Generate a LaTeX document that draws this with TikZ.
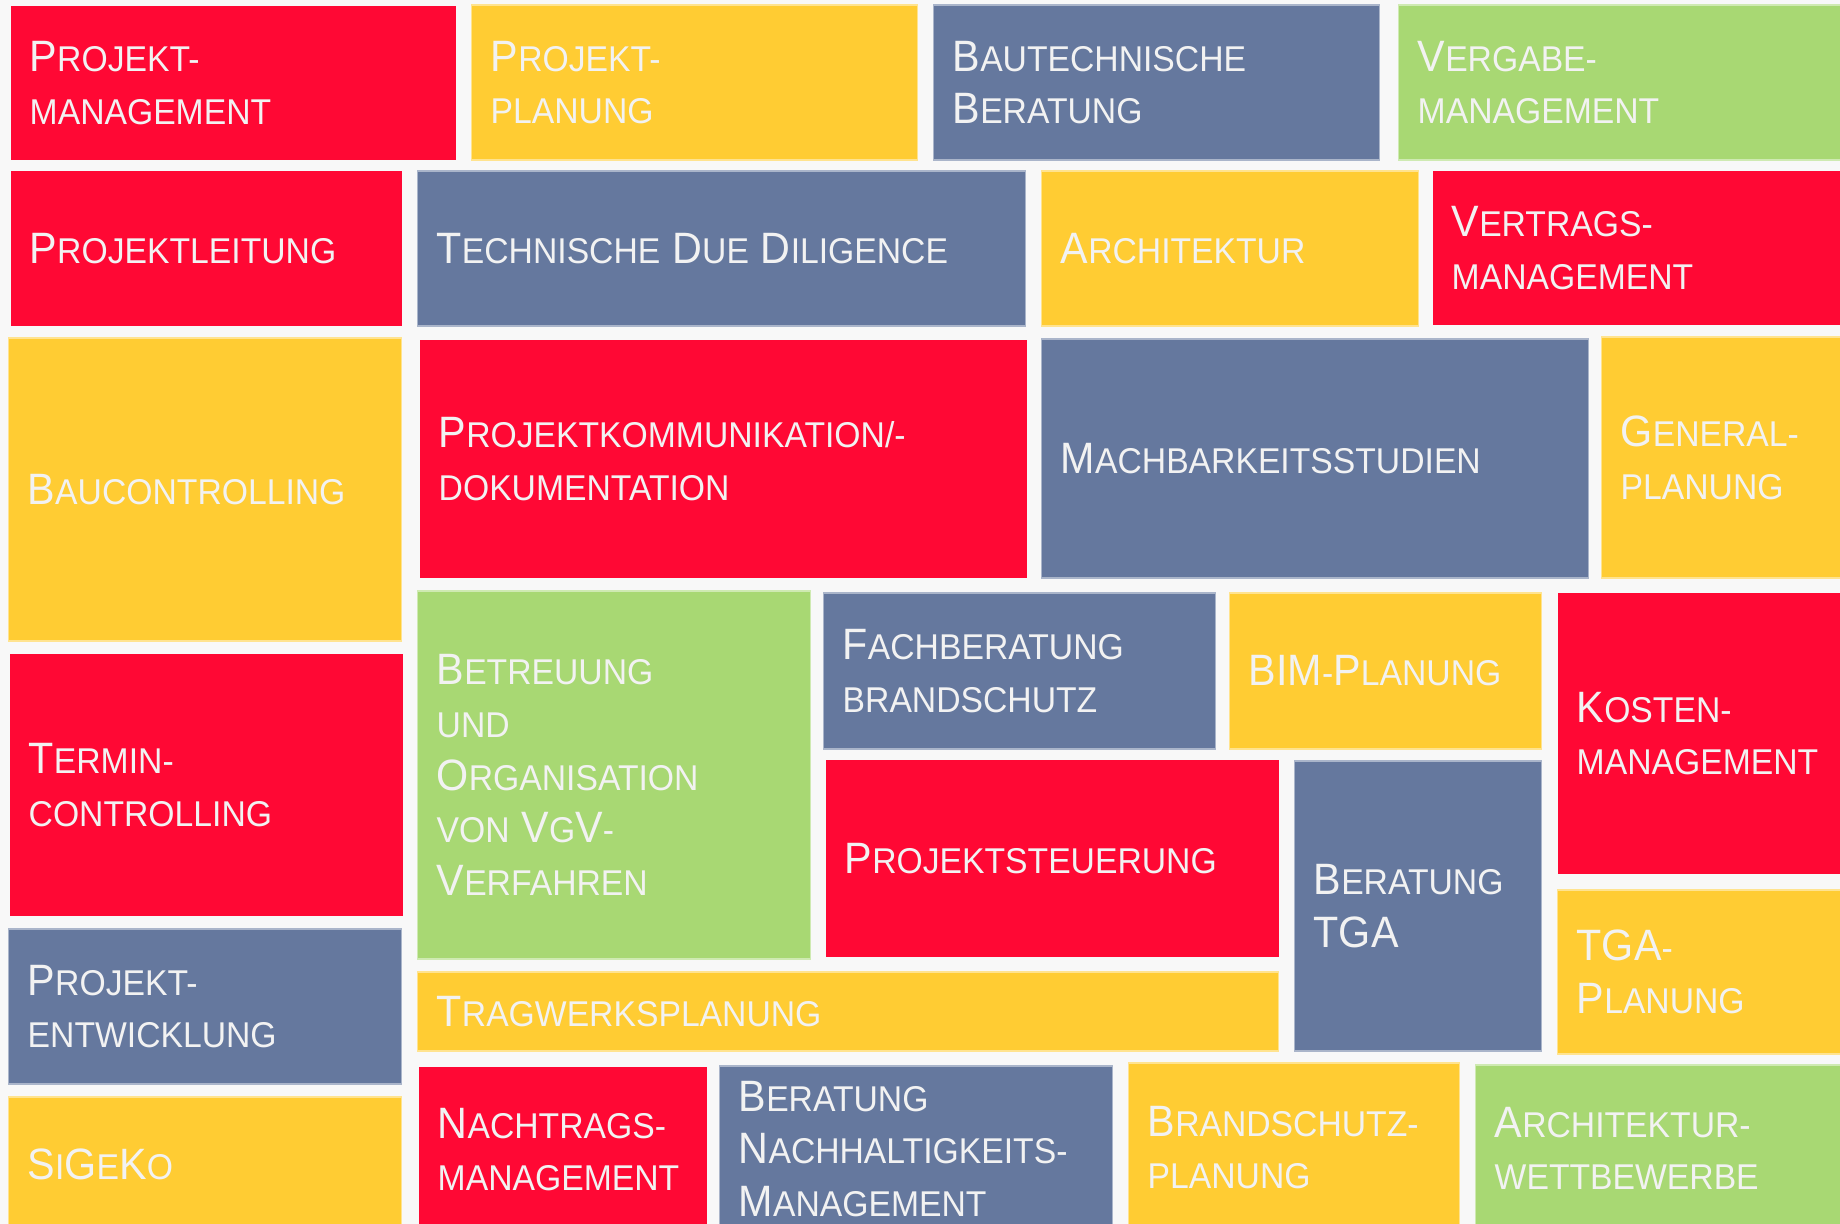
\documentclass[tikz,border=0pt]{standalone}
\usepackage{fontspec}
\setmainfont[FakeStretch=0.94]{Liberation Sans}
\hyphenpenalty=10000
\exhyphenpenalty=10000
\definecolor{rot}{RGB}{255,8,52}
\definecolor{gelb}{RGB}{255,204,51}
\definecolor{blau}{RGB}{101,120,158}
\definecolor{gruen}{RGB}{168,216,115}
\definecolor{hinter}{RGB}{248,248,248}
\definecolor{schrift}{RGB}{242,242,242}
\newcommand\gross[1]{{\fontsize{12.5}{15}\selectfont #1}}
\tikzstyle{tile} = [anchor=west, inner xsep=1.9mm, inner ysep=0pt, align=left, text=schrift, font=\fontsize{10.2}{15}\selectfont]
\tikzstyle{redtile} = [tile, fill=rot]
\tikzstyle{yellowtile} = [tile, fill=gelb, draw=gelb!55!white, line width=0.4pt]
\tikzstyle{bluetile} = [tile, fill=blau, draw=blau!55!white, line width=0.4pt]
\tikzstyle{greentile} = [tile, fill=gruen, draw=gruen!55!white, line width=0.4pt]

\begin{document}
\begin{tikzpicture}[x=0.1mm, y=-0.1mm]
  % Background
  \useasboundingbox (0,0) rectangle (1840,1224);
  \fill[hinter] (0,0) rectangle (1840,1224);
  \clip (0,0) rectangle (1840,1224);
  % Row 1
  \node (pm)[redtile, text width=40.7mm, minimum height=15.4mm] at (10,83) {\gross{P}ROJEKT-\\MANAGEMENT};
  \node (pp)[yellowtile, text width=40.8mm, minimum height=15.5mm] at (471,82.5) {\gross{P}ROJEKT-\\PLANUNG};
  \node (bb)[bluetile, text width=40.8mm, minimum height=15.5mm] at (933,82.5) {\gross{B}AUTECHNISCHE\\\gross{B}ERATUNG};
  \node (vm)[greentile, text width=41.4mm, minimum height=15.5mm] at (1398,82.5) {\gross{V}ERGABE-\\MANAGEMENT};
  % Row 2
  \node (pl)[redtile, text width=35.3mm, minimum height=15.5mm] at (10,248.5) {\gross{P}ROJEKTLEITUNG};
  \node (tdd)[bluetile, text width=57.0mm, minimum height=15.5mm] at (417,248.5) {\gross{T}ECHNISCHE \gross{D}UE \gross{D}ILIGENCE};
  \node (ar)[yellowtile, text width=33.9mm, minimum height=15.5mm] at (1041,248.5) {\gross{A}RCHITEKTUR};
  \node (vtm)[redtile, text width=38.0mm, minimum height=15.4mm] at (1432,248) {\gross{V}ERTRAGS-\\MANAGEMENT};
  % Row 3
  \node (bc)[yellowtile, text width=35.5mm, minimum height=30.3mm] at (8,489.5) {\gross{B}AUCONTROLLING};
  \node (pk)[redtile, text width=56.9mm, minimum height=23.8mm] at (419,459) {\gross{P}ROJEKTKOMMUNIKATION/-\\DOKUMENTATION};
  \node (ms)[bluetile, text width=50.9mm, minimum height=23.9mm] at (1041,458.5) {\gross{M}ACHBARKEITSSTUDIEN};
  \node (gp)[yellowtile, text width=21.1mm, minimum height=24.1mm] at (1601,457.5) {\gross{G}ENERAL-\\PLANUNG};
  % Left column
  \node (tc)[redtile, text width=35.5mm, minimum height=26.2mm] at (9,785) {\gross{T}ERMIN-\\CONTROLLING};
  \node (pe)[bluetile, text width=35.5mm, minimum height=15.5mm] at (8,1006.5) {\gross{P}ROJEKT-\\ENTWICKLUNG};
  \node (sg)[yellowtile, text width=35.5mm, minimum height=13.5mm] at (8,1164.5) {\gross{S}I\gross{G}E\gross{K}O};
  % Middle block
  \node (bo)[greentile, text width=35.5mm, minimum height=36.8mm] at (417,775) {\gross{B}ETREUUNG\\UND\\\gross{O}RGANISATION\\VON \gross{V}G\gross{V}-\\\gross{V}ERFAHREN};
  \node (fb)[bluetile, text width=35.4mm, minimum height=15.6mm] at (823,671) {\gross{F}ACHBERATUNG\\BRANDSCHUTZ};
  \node (bim)[yellowtile, text width=27.4mm, minimum height=15.6mm] at (1229,671) {\gross{BIM}-\gross{P}LANUNG};
  \node (km)[redtile, text width=25.5mm, minimum height=28.1mm] at (1557,733.5) {\gross{K}OSTEN-\\MANAGEMENT};
  \node (ps)[redtile, text width=41.5mm, minimum height=19.7mm] at (825,858.5) {\gross{P}ROJEKTSTEUERUNG};
  \node (tga)[bluetile, text width=20.9mm, minimum height=29.0mm] at (1294,906) {\gross{B}ERATUNG\\\gross{TGA}};
  \node (tgap)[yellowtile, text width=25.5mm, minimum height=16.4mm] at (1557,972) {\gross{TGA}-\\\gross{P}LANUNG};
  \node (tw)[yellowtile, text width=82.3mm, minimum height=7.9mm] at (417,1011.5) {\gross{T}RAGWERKSPLANUNG};
  % Bottom row
  \node (nm)[redtile, text width=25.0mm, minimum height=16.5mm] at (418,1149.5) {\gross{N}ACHTRAGS-\\MANAGEMENT};
  \node (bn)[bluetile, text width=35.5mm, minimum height=16.6mm] at (719,1149) {\gross{B}ERATUNG\\\gross{N}ACHHALTIGKEITS-\\\gross{M}ANAGEMENT};
  \node (bs)[yellowtile, text width=29.3mm, minimum height=16.9mm] at (1128,1147.5) {\gross{B}RANDSCHUTZ-\\PLANUNG};
  \node (aw)[greentile, text width=33.7mm, minimum height=16.7mm] at (1475,1148.5) {\gross{A}RCHITEKTUR-\\WETTBEWERBE};
\end{tikzpicture}
\end{document}
